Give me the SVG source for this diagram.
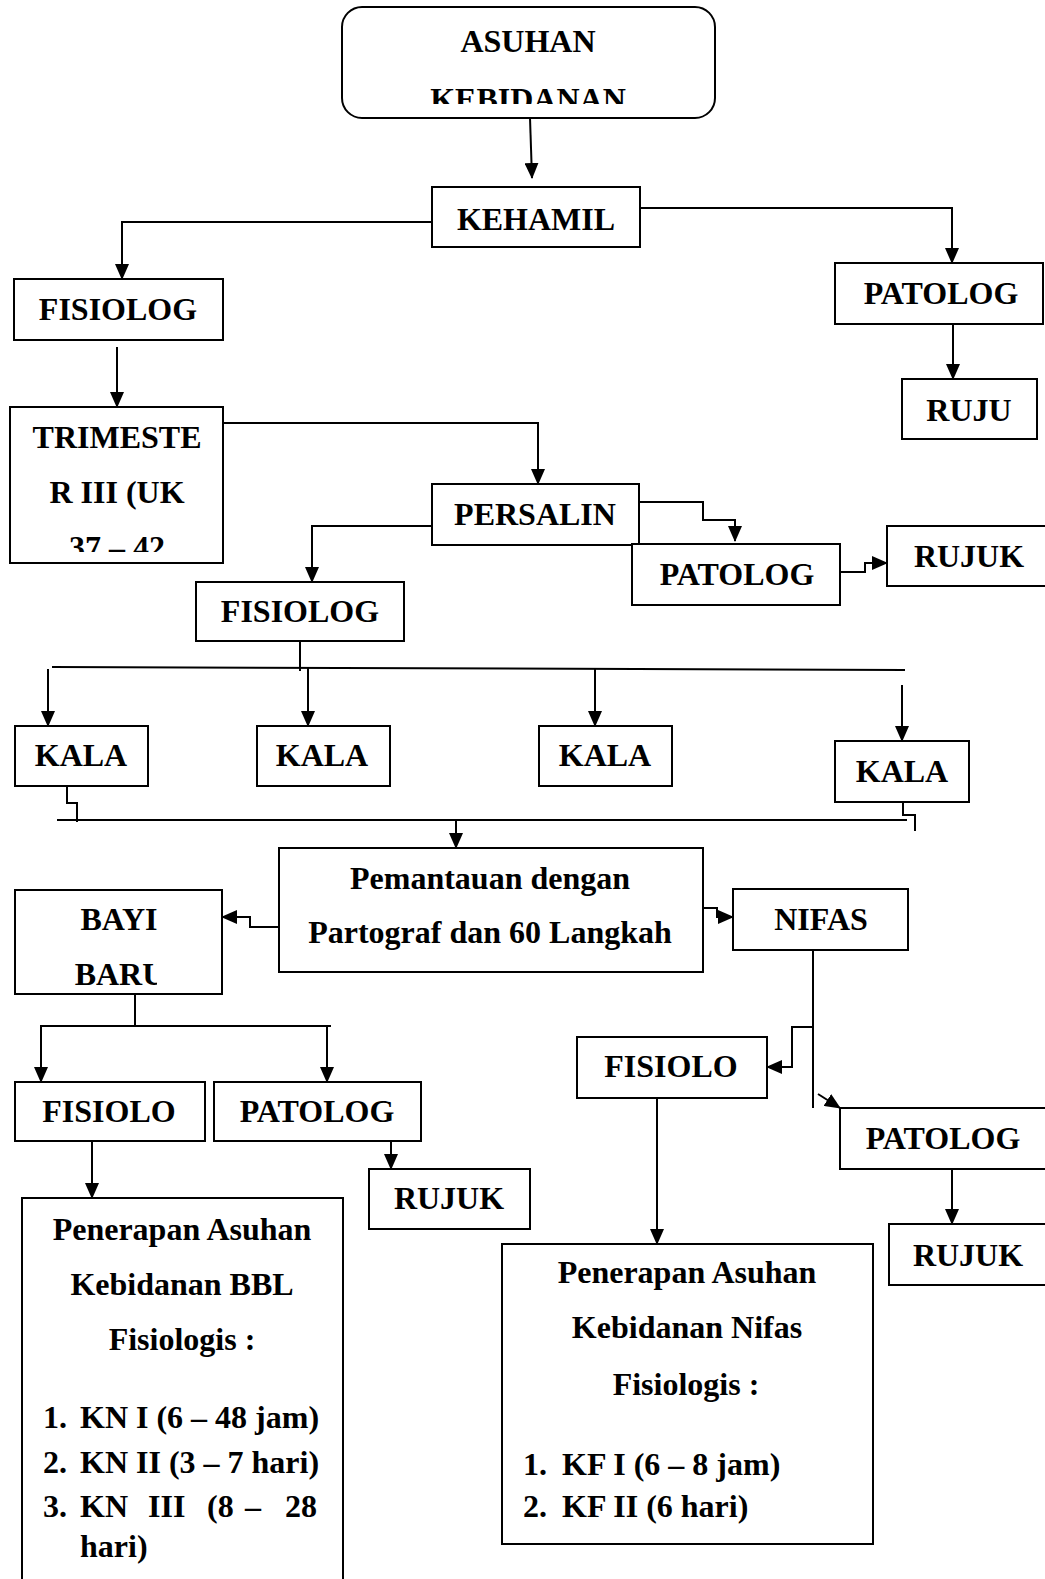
<svg xmlns="http://www.w3.org/2000/svg" width="1045" height="1579" viewBox="0 0 1045 1579">
<style>
.box{fill:#fff;stroke:#000;stroke-width:2}
.t{font-family:"Liberation Serif","Times New Roman",serif;font-weight:bold;font-size:32px;fill:#000;text-anchor:middle}
.l{font-family:"Liberation Serif","Times New Roman",serif;font-weight:bold;font-size:32px;fill:#000}
.c{fill:none;stroke:#000;stroke-width:2}
.a{marker-end:url(#arr)}
</style>
<defs>
<marker id="arr" markerUnits="userSpaceOnUse" markerWidth="16" markerHeight="14" refX="15" refY="7" orient="auto" viewBox="0 0 16 14">
<path d="M0,0 L16,7 L0,14 z" fill="#000"/>
</marker>
<clipPath id="clipTop"><rect x="342" y="7" width="373" height="97"/></clipPath>
<clipPath id="clipTri"><rect x="10" y="407" width="213" height="145"/></clipPath>
<clipPath id="clipBaru"><rect x="15" y="890" width="142" height="104"/></clipPath>
</defs>
<rect width="1045" height="1579" fill="#fff"/>

<g id="connectors">
<path class="c a" d="M530,118 L532,178"/>
<path class="c a" d="M432,222 H122 V279"/>
<path class="c a" d="M640,208 H952 V263"/>
<path class="c a" d="M953,324 V379"/>
<path class="c a" d="M117,347 V407"/>
<path class="c a" d="M223,423 H538 V484"/>
<path class="c a" d="M432,526 H312 V582"/>
<path class="c a" d="M639,502 H703 V520 H735 V541"/>
<path class="c a" d="M840,572 H865 V563 H887"/>
<path class="c" d="M300,641 V671"/>
<path class="c" d="M52,667 L905,670"/>
<path class="c a" d="M48,669 V726"/>
<path class="c a" d="M308,668 V726"/>
<path class="c a" d="M595,669 V726"/>
<path class="c a" d="M902,685 V741"/>
<path class="c" d="M67,786 V803 H77 V822"/>
<path class="c" d="M57,820 H907"/>
<path class="c" d="M903,802 V815 H915 V831"/>
<path class="c a" d="M456,820 V848"/>
<path class="c a" d="M279,927 H250 V917 H222"/>
<path class="c a" d="M703,908 H717 V917 H733"/>
<path class="c" d="M135,994 V1027"/>
<path class="c" d="M40,1026 H331"/>
<path class="c a" d="M41,1026 V1082"/>
<path class="c a" d="M327,1026 V1082"/>
<path class="c a" d="M92,1141 V1198"/>
<path class="c a" d="M391,1141 V1169"/>
<path class="c" d="M813,950 V1108"/>
<path class="c a" d="M813,1027 H792 V1067 H767"/>
<path class="c a" d="M818,1094 L840,1108"/>
<path class="c a" d="M657,1098 V1244"/>
<path class="c a" d="M952,1169 V1224"/>
</g>

<g id="n-asuhan">
<rect class="box" x="342" y="7" width="373" height="111" rx="20"/>
<text class="t" x="528" y="52">ASUHAN</text>
<text class="t" x="528" y="110" clip-path="url(#clipTop)">KEBIDANAN</text>
</g>
<g id="n-kehamil"><rect class="box" x="432" y="187" width="208" height="60"/><text class="t" x="536" y="230">KEHAMIL</text></g>
<g id="n-fisiolog1"><rect class="box" x="14" y="279" width="209" height="61"/><text class="t" x="118" y="320">FISIOLOG</text></g>
<g id="n-patolog1"><rect class="box" x="835" y="263" width="208" height="61"/><text class="t" x="941" y="304">PATOLOG</text></g>
<g id="n-ruju"><rect class="box" x="902" y="379" width="135" height="60"/><text class="t" x="969" y="421">RUJU</text></g>
<g id="n-trimester">
<rect class="box" x="10" y="407" width="213" height="156"/>
<text class="t" x="117" y="448">TRIMESTE</text>
<text class="t" x="117" y="503">R III (UK</text>
<text class="t" x="117" y="558" clip-path="url(#clipTri)">37 – 42</text>
</g>
<g id="n-persalin"><rect class="box" x="432" y="484" width="207" height="61"/><text class="t" x="535" y="525">PERSALIN</text></g>
<g id="n-patolog2"><rect class="box" x="632" y="544" width="208" height="61"/><text class="t" x="737" y="585">PATOLOG</text></g>
<g id="n-rujuk1"><rect class="box" x="887" y="526" width="175" height="60"/><text class="t" x="969" y="567">RUJUK</text></g>
<g id="n-fisiolog2"><rect class="box" x="196" y="582" width="208" height="59"/><text class="t" x="300" y="622">FISIOLOG</text></g>
<g id="n-kala1"><rect class="box" x="15" y="726" width="133" height="60"/><text class="t" x="81" y="766">KALA</text></g>
<g id="n-kala2"><rect class="box" x="257" y="726" width="133" height="60"/><text class="t" x="322" y="766">KALA</text></g>
<g id="n-kala3"><rect class="box" x="539" y="726" width="133" height="60"/><text class="t" x="605" y="766">KALA</text></g>
<g id="n-kala4"><rect class="box" x="835" y="741" width="134" height="61"/><text class="t" x="902" y="782">KALA</text></g>
<g id="n-pemantauan">
<rect class="box" x="279" y="848" width="424" height="124"/>
<text class="t" x="490" y="889">Pemantauan dengan</text>
<text class="t" x="490" y="943">Partograf dan 60 Langkah</text>
</g>
<g id="n-bayi">
<rect class="box" x="15" y="890" width="207" height="104"/>
<text class="t" x="119" y="930">BAYI</text>
<text class="t" x="120" y="985" clip-path="url(#clipBaru)">BARU</text>
</g>
<g id="n-nifas"><rect class="box" x="733" y="889" width="175" height="61"/><text class="t" x="821" y="930">NIFAS</text></g>
<g id="n-fisiolo1"><rect class="box" x="15" y="1082" width="190" height="59"/><text class="t" x="109" y="1122">FISIOLO</text></g>
<g id="n-patolog3"><rect class="box" x="214" y="1082" width="207" height="59"/><text class="t" x="317" y="1122">PATOLOG</text></g>
<g id="n-fisiolo2"><rect class="box" x="577" y="1037" width="190" height="61"/><text class="t" x="671" y="1077">FISIOLO</text></g>
<g id="n-patolog4"><rect class="box" x="840" y="1108" width="220" height="61"/><text class="t" x="943" y="1149">PATOLOG</text></g>
<g id="n-rujuk2"><rect class="box" x="369" y="1169" width="161" height="60"/><text class="t" x="449" y="1209">RUJUK</text></g>
<g id="n-rujuk3"><rect class="box" x="889" y="1224" width="175" height="61"/><text class="t" x="968" y="1266">RUJUK</text></g>
<g id="n-bbl">
<rect class="box" x="22" y="1198" width="321" height="400"/>
<text class="t" x="182" y="1240">Penerapan Asuhan</text>
<text class="t" x="182" y="1295">Kebidanan BBL</text>
<text class="t" x="182" y="1350">Fisiologis :</text>
<text class="l" y="1428"><tspan x="43">1.</tspan><tspan x="80">KN I (6 – 48 jam)</tspan></text>
<text class="l" y="1473"><tspan x="43">2.</tspan><tspan x="80">KN II (3 – 7 hari)</tspan></text>
<text class="l" y="1517"><tspan x="43">3.</tspan><tspan x="80">KN</tspan><tspan x="148">III</tspan><tspan x="207">(8</tspan><tspan x="245">–</tspan><tspan x="285">28</tspan></text>
<text class="l" x="80" y="1557">hari)</text>
</g>
<g id="n-nifasasuhan">
<rect class="box" x="502" y="1244" width="371" height="300"/>
<text class="t" x="687" y="1283">Penerapan Asuhan</text>
<text class="t" x="687" y="1338">Kebidanan Nifas</text>
<text class="t" x="686" y="1395">Fisiologis :</text>
<text class="l" y="1475"><tspan x="523">1.</tspan><tspan x="562">KF I (6 – 8 jam)</tspan></text>
<text class="l" y="1517"><tspan x="523">2.</tspan><tspan x="562">KF II (6 hari)</tspan></text>
</g>
</svg>
